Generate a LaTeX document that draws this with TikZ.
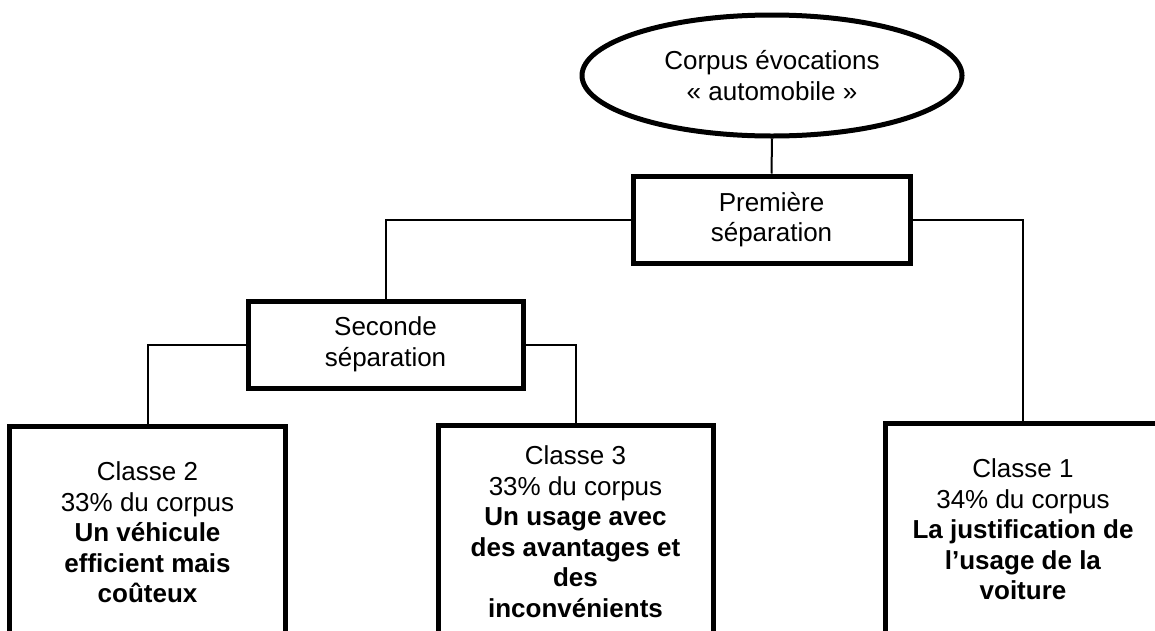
\documentclass[tikz,border=0pt]{standalone}
\usepackage{fontspec}
\setmainfont{Liberation Sans}
\usetikzlibrary{shapes.geometric}
\begin{document}
\begin{tikzpicture}[x=1pt,y=-1pt,
  txt/.style={font=\fontsize{26}{30.5}\selectfont, align=center, inner sep=0pt},
  sepbox/.style={txt, draw=black, line width=5pt, rectangle, minimum width=277pt, minimum height=87pt},
  classbox/.style={txt, draw=black, line width=5pt, rectangle, minimum width=276pt, minimum height=212pt, anchor=north},
  rootell/.style={txt, draw=black, line width=5pt, ellipse, minimum width=380pt, minimum height=121pt},
  conn/.style={draw=black, line width=2pt}]
\useasboundingbox (0,0) rectangle (1155,630);
\clip (0,0) rectangle (1155,630);
\fill[white] (0,0) rectangle (1155,630);
\node[rootell] (root) at (772,75.5) {Corpus évocations\\« automobile »};
\node[sepbox] (p1) at (771.5,219.5) {Première\\séparation};
\node[sepbox, minimum width=275pt] (s2) at (385.5,344.5) {Seconde\\séparation};
\node[classbox] (c2) at (147.5,424) {Classe 2\\33\% du corpus\\\textbf{Un véhicule}\\\textbf{efficient mais}\\\textbf{coûteux}};
\node[classbox, minimum width=275pt] (c3) at (575.5,423) {Classe 3\\33\% du corpus\\\textbf{Un usage avec}\\\textbf{des avantages et}\\\textbf{des}\\\textbf{inconvénients}};
\node[classbox] (c1) at (1023,421) {Classe 1\\34\% du corpus\\\textbf{La justification de}\\\textbf{l’usage de la}\\\textbf{voiture}};
\draw[conn] (root.south) -- (p1.north);
\draw[conn] (p1.west) -| (s2.north);
\draw[conn] (p1.east) -| (c1.north);
\draw[conn] (s2.west) -| (c2.north);
\draw[conn] (s2.east) -| (c3.north);
\end{tikzpicture}
\end{document}
